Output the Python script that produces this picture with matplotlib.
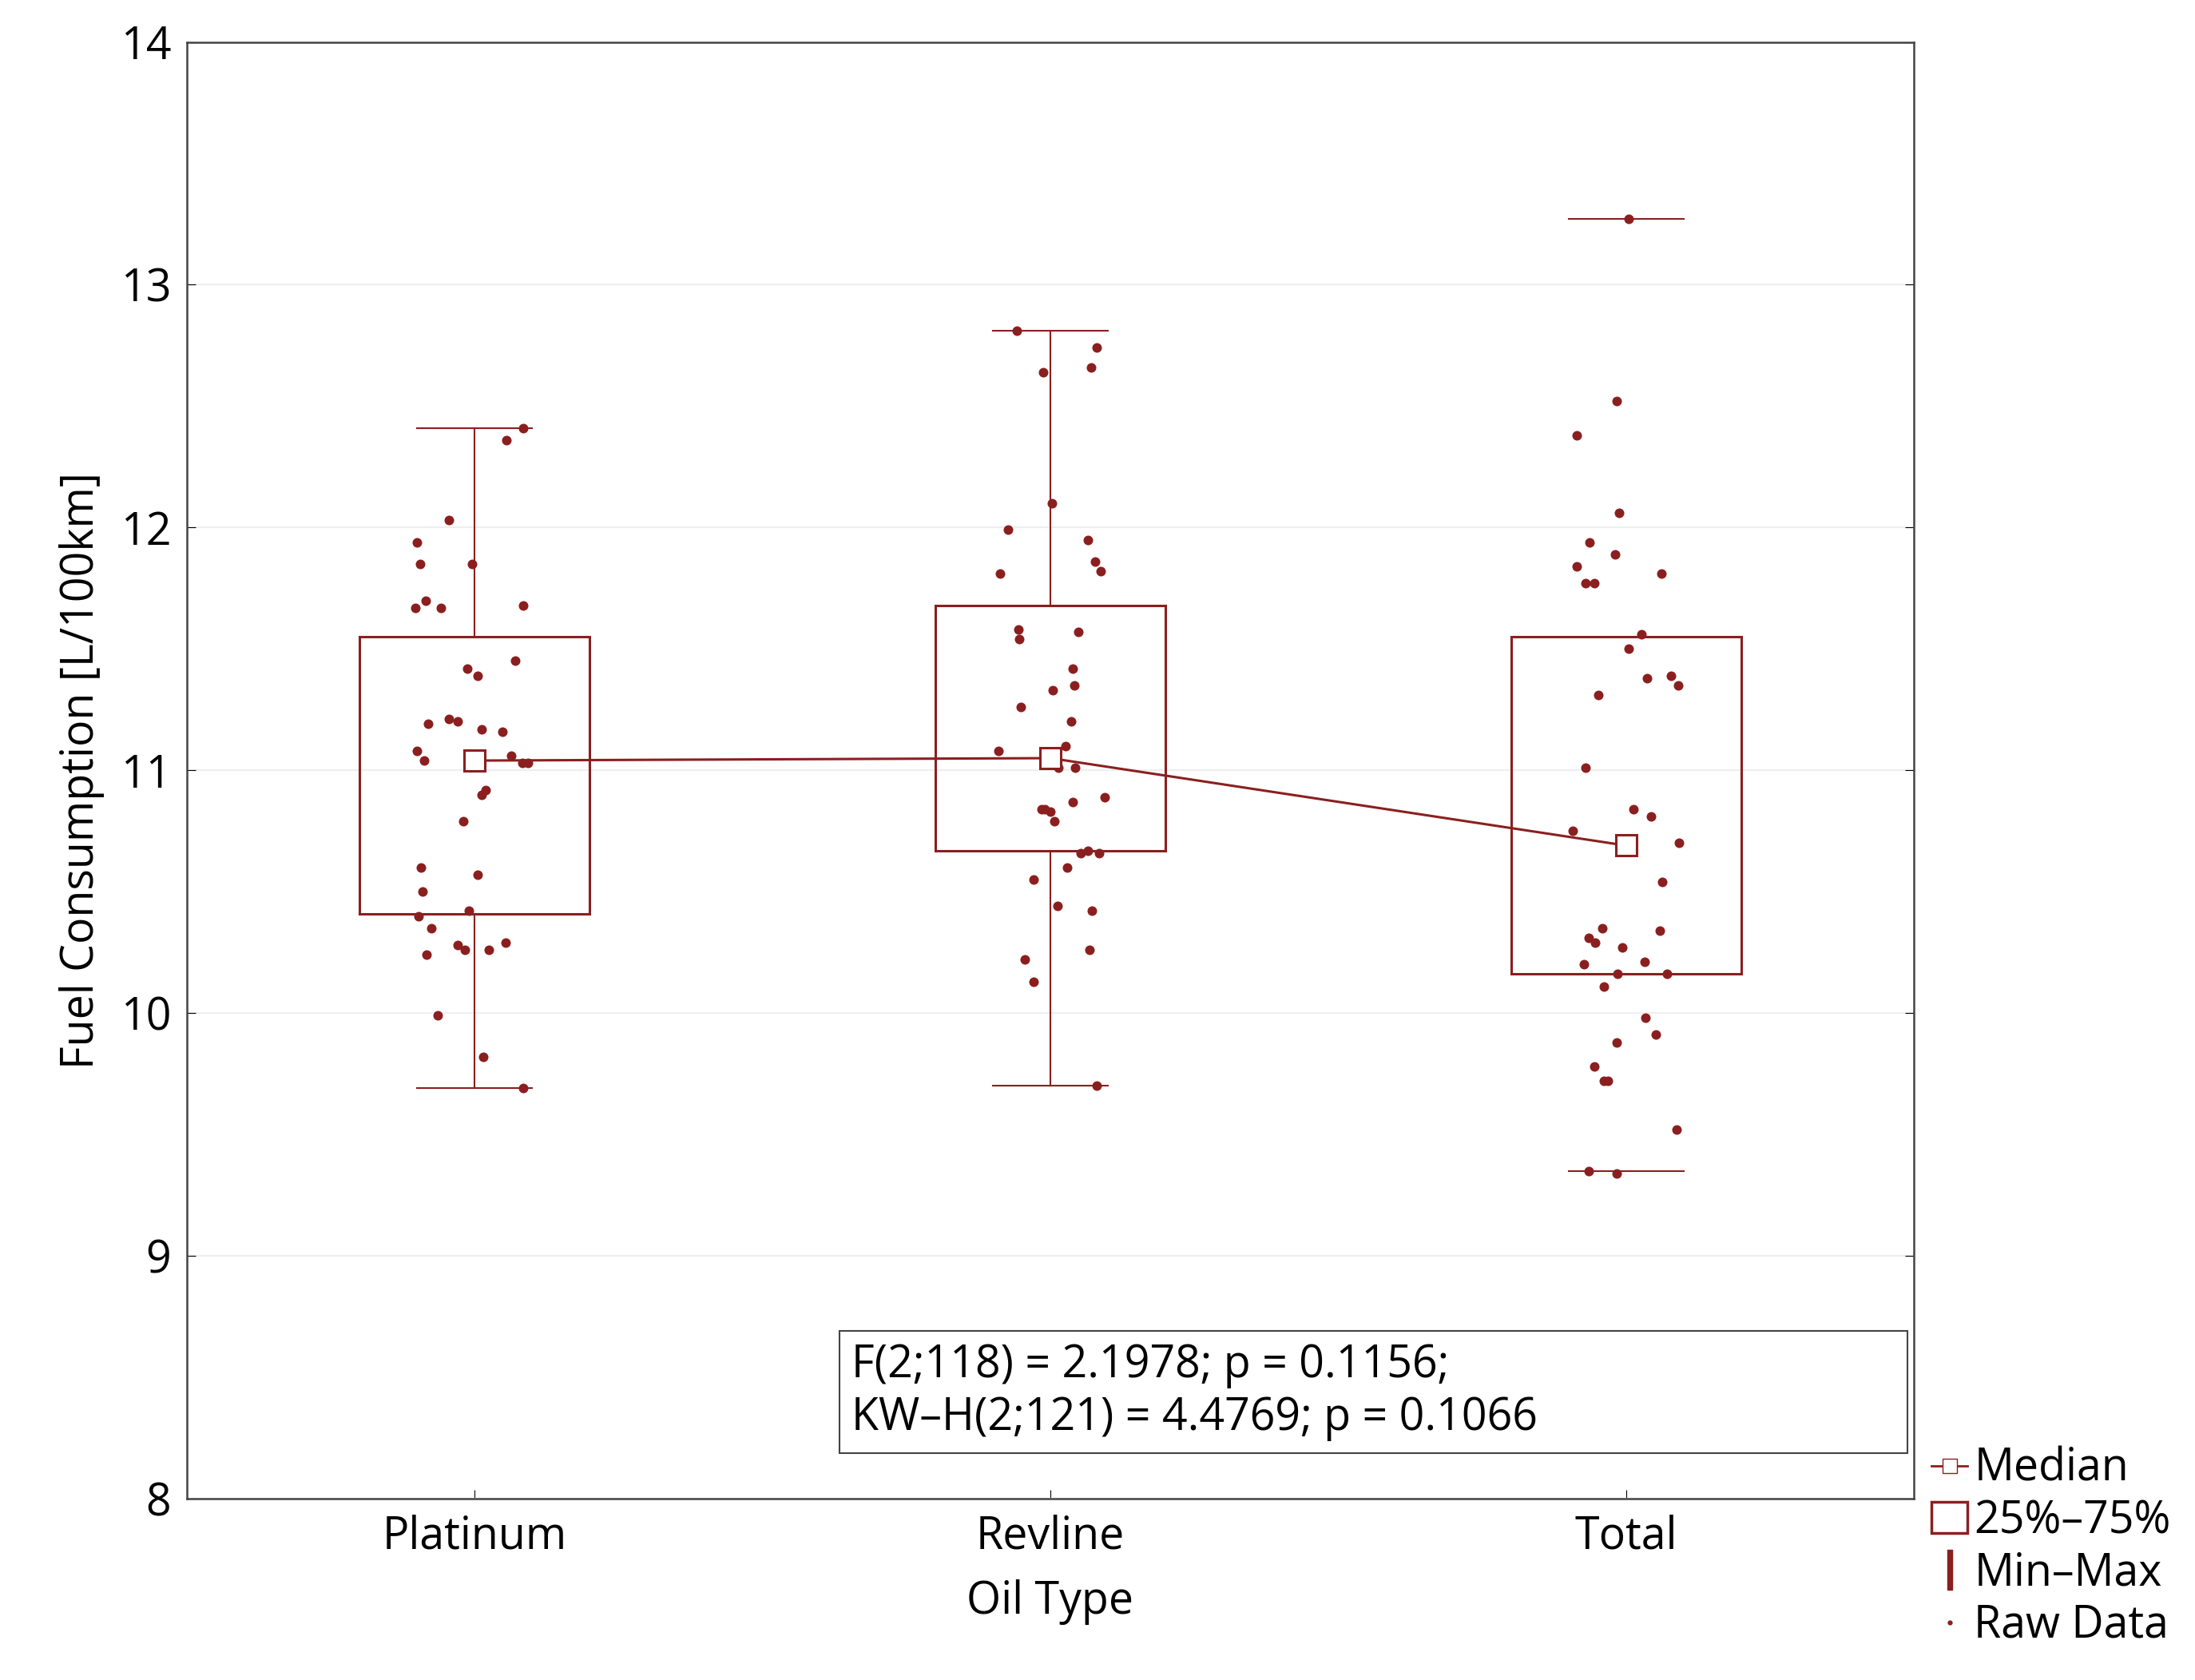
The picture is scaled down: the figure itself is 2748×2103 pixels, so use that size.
import numpy as np
import matplotlib.pyplot as plt
from matplotlib.lines import Line2D
from matplotlib.patches import Patch

plt.rcParams['font.family'] = ['Open Sans', 'DejaVu Sans']

red = '#8b1f1f'
categories = ['Platinum', 'Revline', 'Total']

# summary stats per group
medians = [11.04, 11.05, 10.69]
q1 = [10.41, 10.67, 10.16]
q3 = [11.55, 11.68, 11.55]
mins = [9.69, 9.70, 9.35]
maxs = [12.41, 12.81, 13.27]
draw_whisker = [True, True, False]  # Total has caps only in the original

# raw data: (jitter offset in pixels of the original, value)
plat_x = [35, 23, -18, -41, -39, -2, -42, -35, -24, 35, 29, -5, 2, -18, -12, -33, 5, 20, -41, -36, 26, 34, 38, 8, 5, -8, -38, 2, -37, -40, -4, -31, -12, -7, 10, 22, -34, -26, 6, 35]
plat_y = [12.41, 12.36, 12.03, 11.94, 11.85, 11.85, 11.67, 11.70, 11.67, 11.68, 11.45, 11.42, 11.39, 11.21, 11.20, 11.19, 11.17, 11.16, 11.08, 11.04, 11.06, 11.03, 11.03, 10.92, 10.90, 10.79, 10.60, 10.57, 10.50, 10.40, 10.42, 10.35, 10.28, 10.26, 10.26, 10.29, 10.24, 9.99, 9.82, 9.69]
rev_x = [-24, 33, -5, 29, 1, -30, 27, -36, 32, 36, -23, 20, -22, 16, 17, 2, -21, 15, 11, -37, 6, 18, 39, 16, -4, 0, -6, 3, 27, 22, 35, 12, -12, 5, 30, 28, -18, -12, 33]
rev_y = [12.81, 12.74, 12.64, 12.66, 12.10, 11.99, 11.95, 11.81, 11.86, 11.82, 11.58, 11.57, 11.54, 11.42, 11.35, 11.33, 11.26, 11.20, 11.10, 11.08, 11.01, 11.01, 10.89, 10.87, 10.84, 10.83, 10.84, 10.79, 10.67, 10.66, 10.66, 10.60, 10.55, 10.44, 10.42, 10.26, 10.22, 10.13, 9.70]
tot_x = [2, -7, -35, -5, -26, -35, -8, -29, -23, 25, 11, 2, 15, 32, 37, -20, -29, 5, 18, -38, 38, 26, 24, -17, -27, -22, -3, -30, 13, -6, 29, -16, 14, 21, -7, -23, -16, -13, 36, -27, -7]
tot_y = [13.27, 12.52, 12.38, 12.06, 11.94, 11.84, 11.89, 11.77, 11.77, 11.81, 11.56, 11.50, 11.38, 11.39, 11.35, 11.31, 11.01, 10.84, 10.81, 10.75, 10.70, 10.54, 10.34, 10.35, 10.31, 10.29, 10.27, 10.20, 10.21, 10.16, 10.16, 10.11, 9.98, 9.91, 9.88, 9.78, 9.72, 9.72, 9.52, 9.35, 9.34]
raw_x = [plat_x, rev_x, tot_x]
raw_y = [plat_y, rev_y, tot_y]

fig = plt.figure(figsize=(27.48, 21.03), dpi=100)
ax = fig.add_axes([0.085, 0.108, 0.787, 0.867])

for i in range(3):
    ax.add_patch(plt.Rectangle((i - 0.2, q1[i]), 0.4, q3[i] - q1[i], fill=False, edgecolor=red, lw=2.2, zorder=3))
    if draw_whisker[i]:
        ax.plot([i, i], [q3[i], maxs[i]], color=red, lw=1.5, zorder=2)
        ax.plot([i, i], [mins[i], q1[i]], color=red, lw=1.5, zorder=2)
    ax.plot([i - 0.1, i + 0.1], [maxs[i]] * 2, color=red, lw=1.5, zorder=2)
    ax.plot([i - 0.1, i + 0.1], [mins[i]] * 2, color=red, lw=1.5, zorder=2)
    xs = i + np.array(raw_x[i]) / 411.5
    ax.scatter(xs, raw_y[i], s=75, color=red, zorder=4, linewidths=0)

ax.plot(range(3), medians, color=red, lw=2.2, marker='s', ms=19, mfc='white', mew=2.2, zorder=5)

ax.set_xlim(-0.5, 2.5)
ax.set_ylim(8, 14)
ax.set_xticks(range(3))
ax.set_xticklabels(categories)
ax.set_yticks(range(8, 15))
ax.tick_params(labelsize=40, direction='in', length=8, right=True, pad=14)
ax.grid(axis='y', color='#eeeeee', lw=1.5)
ax.set_axisbelow(True)
for s in ax.spines.values():
    s.set_color('#444444')
    s.set_linewidth(1.8)
ax.set_xlabel('Oil Type', fontsize=40, labelpad=18)
ax.set_ylabel('Fuel Consumption [L/100km]', fontsize=40, labelpad=14)

ax.add_patch(plt.Rectangle((0.378, 0.031), 0.618, 0.084, transform=ax.transAxes,
                           facecolor='white', edgecolor='#444444', lw=1.5, zorder=6))
ax.text(0.385, 0.073, 'F(2;118) = 2.1978; p = 0.1156;\nKW\u2013H(2;121) = 4.4769; p = 0.1066',
        transform=ax.transAxes, fontsize=40, va='center', ha='left', linespacing=1.2, zorder=7)

handles = [
    Line2D([], [], color=red, marker='s', mfc='white', ms=13, lw=2),
    Patch(facecolor='white', edgecolor=red, lw=2.5),
    Line2D([], [], color=red, marker='$\\mathrm{I}$', ms=36, lw=0),
    Line2D([], [], color=red, marker='.', ms=7, lw=0),
]
fig.legend(handles, ['Median', '25%\u201375%', 'Min\u2013Max', 'Raw Data'], loc='lower left',
           bbox_to_anchor=(0.872, 0.008), frameon=False, fontsize=40,
           handlelength=0.8, handletextpad=0.15, labelspacing=0.15, borderaxespad=0)

fig.savefig('out.png', dpi=100)
